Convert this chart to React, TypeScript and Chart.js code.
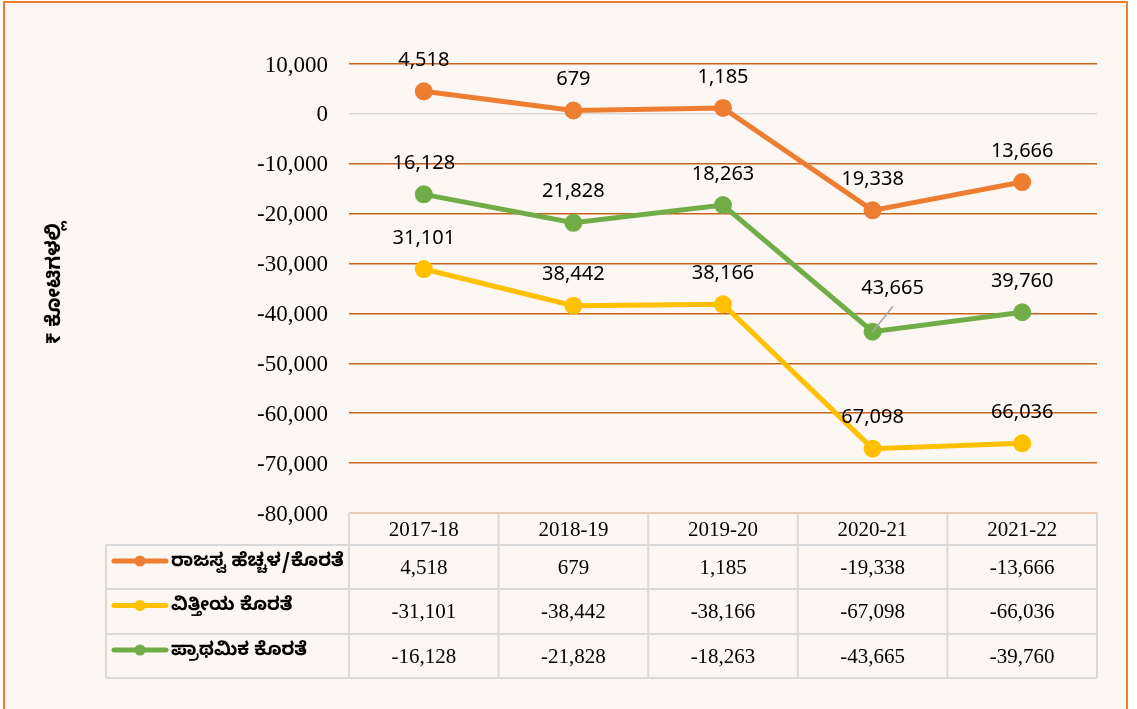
import { useEffect, useRef } from "react";
import { Chart, registerables } from "chart.js";

Chart.register(...registerables);

const categories = ["2017-18", "2018-19", "2019-20", "2020-21", "2021-22"];
const revenueBalance = [4518, 679, 1185, -19338, -13666];
const fiscalDeficit = [-31101, -38442, -38166, -67098, -66036];
const primaryDeficit = [-16128, -21828, -18263, -43665, -39760];
const seriesNames = ["ರಾಜಸ್ವ ಹೆಚ್ಚಳ/ಕೊರತೆ", "ವಿತ್ತೀಯ ಕೊರತೆ", "ಪ್ರಾಥಮಿಕ ಕೊರತೆ"];
const seriesColors = ["#ED7D31", "#FFC000", "#70AD47"];
const yTitle = "₹ ಕೋಟಿಗಳಲ್ಲಿ";
const yMin = -80000;
const yMax = 10000;
const yStep = 10000;

const fmt = (v: number) => v.toLocaleString("en-US");
const KANNADA = "'Noto Sans Kannada', 'Noto Sans', 'DejaVu Sans', sans-serif";
const SERIF = "'Liberation Serif', 'Times New Roman', serif";
const LABEL_FONT = "'Noto Sans', 'Open Sans', sans-serif";

const decorPlugin = {
  id: "decor",
  beforeDraw(chart: any) {
    const ctx = chart.ctx;
    ctx.save();
    ctx.fillStyle = "#ffffff";
    ctx.fillRect(0, 0, chart.width, chart.height);
    ctx.fillStyle = "#FCF7F3";
    ctx.fillRect(4, 2, 1123, chart.height + 10);
    ctx.strokeStyle = "#ED7D31";
    ctx.lineWidth = 2;
    ctx.strokeRect(4, 2, 1123, chart.height + 10);
    ctx.restore();
  },
  afterDraw(chart: any) {
    const ctx = chart.ctx;
    const xs = chart.scales.x;
    const area = chart.chartArea;
    const colW = (area.right - area.left) / categories.length;
    const top = area.bottom;
    const rowEdges = [top, top + 32, top + 76, top + 121, top + 165];
    const legendLeft = 106;

    ctx.save();
    // Table grid
    ctx.strokeStyle = "#D9D9D9";
    ctx.lineWidth = 2;
    ctx.beginPath();
    for (let r = 1; r < rowEdges.length; r++) {
      ctx.moveTo(legendLeft, rowEdges[r]);
      ctx.lineTo(area.right, rowEdges[r]);
    }
    ctx.moveTo(legendLeft, rowEdges[1]);
    ctx.lineTo(legendLeft, rowEdges[4]);
    for (let c = 0; c <= categories.length; c++) {
      const x = area.left + c * colW;
      ctx.moveTo(x, rowEdges[0]);
      ctx.lineTo(x, rowEdges[4]);
    }
    ctx.stroke();
    ctx.strokeStyle = "#EBCBB3";
    ctx.beginPath();
    ctx.moveTo(area.left, top);
    ctx.lineTo(area.right, top);
    ctx.stroke();

    // Header
    ctx.fillStyle = "#000";
    ctx.textAlign = "center";
    ctx.textBaseline = "middle";
    ctx.font = `21px ${SERIF}`;
    categories.forEach((c, i) => {
      ctx.fillText(c, xs.getPixelForValue(i), (rowEdges[0] + rowEdges[1]) / 2 + 1);
    });

    // Rows
    chart.data.datasets.forEach((ds: any, r: number) => {
      const yMid = (rowEdges[r + 1] + rowEdges[r + 2]) / 2;
      ctx.font = `21px ${SERIF}`;
      ctx.textAlign = "center";
      ds.data.forEach((v: number, i: number) => {
        ctx.fillText(fmt(v), xs.getPixelForValue(i), yMid + 1);
      });
      // legend key
      const ky = yMid - 6;
      ctx.strokeStyle = ds.borderColor;
      ctx.lineWidth = 5;
      ctx.lineCap = "round";
      ctx.beginPath();
      ctx.moveTo(114, ky);
      ctx.lineTo(166, ky);
      ctx.stroke();
      ctx.fillStyle = ds.borderColor;
      ctx.beginPath();
      ctx.arc(140, ky, 5.5, 0, Math.PI * 2);
      ctx.fill();
      ctx.fillStyle = "#000";
      ctx.textAlign = "left";
      ctx.font = `bold 18.5px ${KANNADA}`;
      ctx.fillText(ds.label, 171, yMid - 3);
    });

    // Data labels
    ctx.font = `20px ${LABEL_FONT}`;
    ctx.textAlign = "center";
    ctx.textBaseline = "middle";
    chart.data.datasets.forEach((ds: any, d: number) => {
      const meta = chart.getDatasetMeta(d);
      meta.data.forEach((pt: any, i: number) => {
        const text = fmt(Math.abs(ds.data[i]));
        let lx = pt.x;
        let ly = pt.y - 31;
        if (d === 2 && i === 3) {
          lx = pt.x + 20;
          ly = pt.y - 43;
          ctx.strokeStyle = "#A6A6A6";
          ctx.lineWidth = 1.5;
          ctx.beginPath();
          ctx.moveTo(pt.x, pt.y);
          ctx.lineTo(pt.x + 20, pt.y - 25);
          ctx.stroke();
        }
        ctx.fillStyle = "#000";
        ctx.fillText(text, lx, ly);
      });
    });

    // Y axis title
    ctx.save();
    ctx.translate(58, 283);
    ctx.rotate(-Math.PI / 2);
    ctx.font = `bold 20px ${KANNADA}`;
    ctx.textAlign = "center";
    ctx.textBaseline = "middle";
    ctx.fillStyle = "#000";
    ctx.fillText(yTitle, 0, 0);
    ctx.restore();

    ctx.restore();
  },
};

export default function App() {
  const ref = useRef<HTMLCanvasElement | null>(null);
  useEffect(() => {
    if (!ref.current) return;
    const chart = new Chart(ref.current, {
      type: "line",
      data: {
        labels: categories,
        datasets: [revenueBalance, fiscalDeficit, primaryDeficit].map((data, i) => ({
          label: seriesNames[i],
          data,
          borderColor: seriesColors[i],
          backgroundColor: seriesColors[i],
          pointBackgroundColor: seriesColors[i],
          pointBorderColor: seriesColors[i],
          borderWidth: 5,
          pointRadius: 6.5,
          pointHoverRadius: 6.5,
          tension: 0,
        })),
      },
      options: {
        animation: false,
        responsive: true,
        maintainAspectRatio: false,
        layout: { padding: { top: 64, bottom: 196, left: 0, right: 40 } },
        plugins: { legend: { display: false }, tooltip: { enabled: false } },
        scales: {
          x: { display: false, offset: true },
          y: {
            min: yMin,
            max: yMax,
            border: { display: false },
            afterFit: (s: any) => {
              s.width = 349;
            },
            grid: {
              drawTicks: false,
              lineWidth: 1.6,
              color: (c: any) =>
                c.tick && c.tick.value === 0
                  ? "#D9D9D9"
                  : c.tick && c.tick.value === yMin
                  ? "#EBCBB3"
                  : "#C9651E",
            },
            ticks: {
              stepSize: yStep,
              padding: 21,
              labelOffset: 1.5,
              color: "#000",
              font: { family: SERIF, size: 23 },
              callback: (v: any) => fmt(Number(v)),
            },
          },
        },
      },
      plugins: [decorPlugin],
    });
    return () => chart.destroy();
  }, []);
  return (
    <div style={{ position: "fixed", left: 0, top: 0, width: 1137, height: 709 }}>
      <canvas ref={ref} />
    </div>
  );
}
